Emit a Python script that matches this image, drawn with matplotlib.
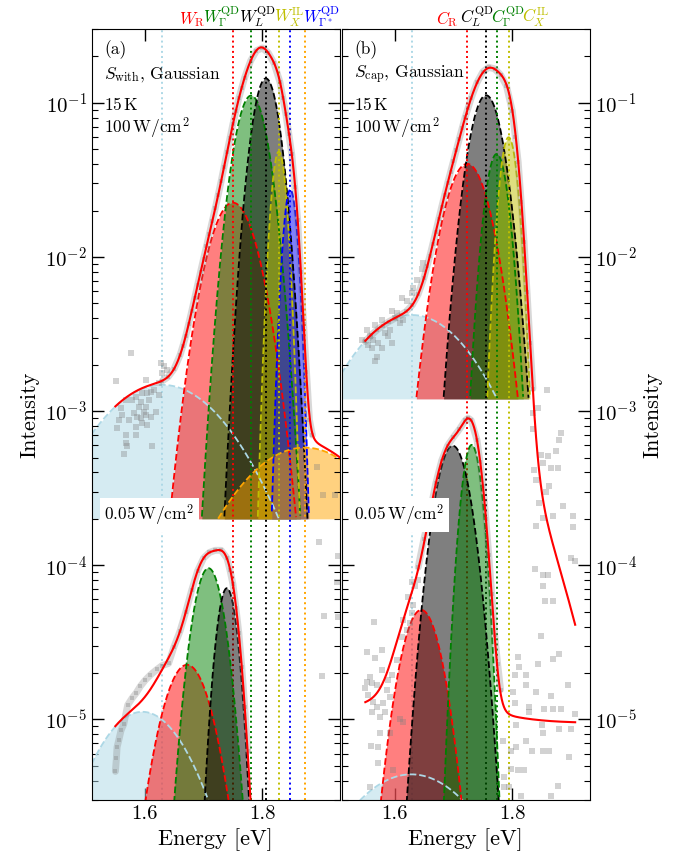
import numpy as np
import matplotlib
matplotlib.use('Agg')
import matplotlib.pyplot as plt
import matplotlib.transforms as mtrans

plt.rcParams['font.family'] = 'serif'
plt.rcParams['font.serif'] = ['cmr10']
plt.rcParams['mathtext.fontset'] = 'cm'
plt.rcParams['axes.unicode_minus'] = False
plt.rcParams['axes.formatter.use_mathtext'] = True

# ---- Gaussian components, 100 W/cm^2 (upper spectra) ----
a_high_colors = ['lightblue', 'red', 'green', 'black', 'y', 'blue', 'orange']
a_high_amp = [1.48e-3, 0.0225, 0.1115, 0.144, 0.0483, 0.0274, 5.8e-4]
a_high_pos = [1.630, 1.750, 1.781, 1.806, 1.828, 1.8475, 1.872]
a_high_wid = [0.099, 0.035, 0.0236, 0.0195, 0.0108, 0.0101, 0.101]
a_high_base = 2e-4

b_high_colors = ['lightblue', 'red', 'black', 'green', 'y']
b_high_amp = [4.2e-3, 0.0402, 0.112, 0.0466, 0.0598]
b_high_pos = [1.630, 1.7232, 1.7554, 1.7734, 1.7937]
b_high_wid = [0.091, 0.0326, 0.024, 0.0167, 0.013]
b_high_base = 1.2e-3

# ---- Gaussian components, 0.05 W/cm^2 (lower spectra) ----
a_low_colors = ['lightblue', 'red', 'green', 'black']
a_low_amp = [1.12e-5, 2.26e-5, 9.57e-5, 7.1e-5]
a_low_pos = [1.596, 1.672, 1.7085, 1.7397]
a_low_wid = [0.069, 0.0351, 0.0221, 0.015]
a_low_bg = 0.0

b_low_colors = ['lightblue', 'red', 'black', 'green']
b_low_amp = [4.4e-6, 5.13e-5, 5.96e-4, 6.04e-4]
b_low_pos = [1.6283, 1.6452, 1.6988, 1.731]
b_low_wid = [0.099, 0.0287, 0.024, 0.0145]
b_low_bg = 9.5e-6

a_fit_range = (1.55, 1.95)
b_fit_range = (1.55, 1.907)

# ---- measured spectra (main trace) ----
a_high_trace_E = [1.63, 1.64, 1.65, 1.66, 1.665, 1.67, 1.675, 1.68, 1.685, 1.69, 1.695,
                  1.70, 1.705, 1.71, 1.715, 1.72, 1.725, 1.73, 1.735, 1.74, 1.745, 1.75,
                  1.755, 1.76, 1.765, 1.77, 1.78, 1.79, 1.80, 1.81, 1.82, 1.83, 1.835,
                  1.84, 1.845, 1.85, 1.855, 1.86, 1.865, 1.87, 1.875, 1.88, 1.885]
a_high_trace_I = [1.57e-3, 1.67e-3, 1.88e-3, 2.3e-3, 2.65e-3, 3.09e-3, 3.7e-3, 4.45e-3,
                  5.4e-3, 6.57e-3, 8.0e-3, 9.7e-3, 1.17e-2, 1.41e-2, 1.71e-2, 2.07e-2,
                  2.53e-2, 3.1e-2, 3.85e-2, 4.77e-2, 5.9e-2, 7.28e-2, 8.8e-2, 0.107, 0.125,
                  0.146, 0.187, 0.218, 0.227, 0.211, 0.180, 0.136, 0.107, 8.44e-2, 6.25e-2,
                  4.63e-2, 2.85e-2, 1.75e-2, 8.0e-3, 3.7e-3, 1.8e-3, 8.8e-4, 7.0e-4]

a_low_trace_E = [1.5503, 1.552, 1.5531, 1.5559, 1.5599, 1.5644, 1.5712, 1.5785, 1.5859,
                 1.5927, 1.6011, 1.6096, 1.6209, 1.6294, 1.6407, 1.65, 1.66, 1.67, 1.68,
                 1.69, 1.70, 1.71, 1.72, 1.73, 1.74, 1.745, 1.75, 1.755, 1.76, 1.765,
                 1.77, 1.775]
a_low_trace_I = [4.6e-6, 5.6e-6, 6.6e-6, 7.3e-6, 8.5e-6, 9.3e-6, 1.24e-5, 1.37e-5, 1.49e-5,
                 1.64e-5, 1.8e-5, 1.94e-5, 2.11e-5, 2.23e-5, 2.31e-5, 2.97e-5, 3.73e-5,
                 5.0e-5, 6.9e-5, 9.2e-5, 1.11e-4, 1.21e-4, 1.25e-4, 1.25e-4, 1.11e-4,
                 9.3e-5, 7.55e-5, 5.3e-5, 3.64e-5, 2.2e-5, 1.21e-5, 6.2e-6]

b_high_trace_E = [1.55, 1.56, 1.57, 1.58, 1.59, 1.60, 1.61, 1.62, 1.63, 1.64, 1.65, 1.655,
                  1.66, 1.665, 1.67, 1.675, 1.68, 1.685, 1.69, 1.695, 1.70, 1.705, 1.71,
                  1.715, 1.72, 1.725, 1.73, 1.74, 1.75, 1.76, 1.77, 1.78, 1.79, 1.80,
                  1.805, 1.81, 1.815, 1.82, 1.825, 1.83, 1.835]
b_high_trace_I = [2.83e-3, 3.1e-3, 3.36e-3, 3.59e-3, 3.8e-3, 3.99e-3, 4.19e-3, 4.44e-3,
                  4.88e-3, 5.73e-3, 7.35e-3, 8.7e-3, 1.02e-2, 1.22e-2, 1.46e-2, 1.76e-2,
                  2.11e-2, 2.52e-2, 3.0e-2, 3.55e-2, 4.19e-2, 4.96e-2, 5.86e-2, 6.9e-2,
                  8.1e-2, 9.3e-2, 0.107, 0.1355, 0.159, 0.170, 0.166, 0.152, 0.129, 0.0885,
                  0.0604, 0.0412, 0.0227, 0.0125, 5.9e-3, 2.78e-3, 1.4e-3]

b_low_trace_E = [1.64, 1.65, 1.66, 1.67, 1.68, 1.69, 1.70, 1.71, 1.72, 1.725, 1.73, 1.74,
                 1.745, 1.75, 1.755, 1.76, 1.765, 1.77, 1.775, 1.78]
b_low_trace_I = [9.7e-5, 1.49e-4, 2.2e-4, 3.4e-4, 4.78e-4, 5.97e-4, 6.78e-4, 7.62e-4,
                 8.71e-4, 9.0e-4, 8.72e-4, 6.47e-4, 4.7e-4, 3.29e-4, 2.0e-4, 1.16e-4,
                 6.5e-5, 3.53e-5, 2.3e-5, 1.56e-5]

# ---- scattered (noisy) measured points ----
a_noise_E = [1.5763, 1.5508, 1.6017, 1.627, 1.633, 1.6385, 1.630, 1.616, 1.6102, 1.6046,
             1.5961, 1.5847, 1.5792, 1.5678, 1.5932, 1.6075, 1.6244, 1.5593, 1.5905,
             1.6017, 1.582, 1.599, 1.6186, 1.5622, 1.5876, 1.6017, 1.5932, 1.6102, 1.5736,
             1.5566, 1.6046, 1.5537, 1.5847, 1.5961, 1.5678, 1.5847, 1.613, 1.5678,
             1.5707, 1.565, 1.6244,
             1.8922, 1.9034, 1.9232, 1.8961, 1.9278, 1.9261, 1.9051, 1.9278, 1.9007]
a_noise_I = [2.38e-3, 1.56e-3, 1.58e-3, 2.06e-3, 1.95e-3, 1.85e-3, 1.77e-3, 1.37e-3,
             1.34e-3, 1.31e-3, 1.31e-3, 1.24e-3, 1.18e-3, 1.18e-3, 1.15e-3, 1.18e-3,
             1.28e-3, 1.05e-3, 1.07e-3, 1.07e-3, 9.7e-4, 9.9e-4, 9.9e-4, 9.5e-4, 9.2e-4,
             9.5e-4, 9.0e-4, 9.2e-4, 8.8e-4, 8.8e-4, 8.1e-4, 7.8e-4, 7.9e-4, 8.35e-4,
             7.0e-4, 7.0e-4, 5.9e-4, 6.2e-4, 5.9e-4, 5.3e-4, 1.53e-3,
             4.37e-4, 2.86e-4, 2.86e-4, 1.41e-4, 1.14e-4, 7.8e-5, 4.69e-5, 4.64e-5, 1.92e-5]

b_noise_E = [1.6119, 1.6203, 1.6288, 1.5949, 1.6005, 1.578, 1.5666, 1.5525, 1.5581, 1.5639,
             1.5724, 1.5836, 1.592, 1.609, 1.6147, 1.6034, 1.5893, 1.5949, 1.5695, 1.5666,
             1.5554, 1.561, 1.578, 1.5441, 1.6317, 1.6373, 1.6458, 1.6486,
             1.8582, 1.8429, 1.8344, 1.8344, 1.8825, 1.8797, 1.8741, 1.8599, 1.8486,
             1.8514, 1.8373, 1.8656, 1.8768, 1.8401, 1.8627, 1.8571, 1.8446, 1.8864,
             1.8683, 1.8514, 1.8401, 1.9023, 1.9023, 1.8995, 1.9068, 1.839, 1.8514,
             1.8599, 1.8525, 1.8559, 1.8695, 1.8486, 1.8785, 1.8695, 1.809, 1.8429,
             1.8232, 1.8119, 1.8051, 1.8232, 1.8017, 1.8401, 1.8656, 1.8938, 1.8288,
             1.8051, 1.8277, 1.8542, 1.8683, 1.8825, 1.9068, 1.8063, 1.8503, 1.8797,
             1.8995, 1.8514, 1.7836, 1.8063, 1.8232, 1.8333, 1.8514, 1.8627, 1.8955,
             1.7978, 1.7978, 1.809, 1.8203, 1.8768, 1.7949, 1.8147, 1.8656, 1.7864, 1.7864,
             1.5656, 1.5525, 1.5666, 1.578, 1.5581, 1.561, 1.5525, 1.5695, 1.5497, 1.5554,
             1.5639, 1.5695, 1.561, 1.5808, 1.5751, 1.5864, 1.5949, 1.6034, 1.6119,
             1.6203, 1.626, 1.6288, 1.6317, 1.609, 1.6147, 1.5751, 1.592, 1.5593, 1.5724,
             1.5712, 1.5978, 1.5581, 1.5836, 1.592, 1.578, 1.5893, 1.6147, 1.6232, 1.6344,
             1.6402, 1.6288]
b_noise_I = [5.4e-3, 5.15e-3, 5.8e-3, 4.43e-3, 4.02e-3, 3.92e-3, 3.63e-3, 3.37e-3, 3.05e-3,
             2.9e-3, 2.77e-3, 3.21e-3, 3.37e-3, 3.73e-3, 3.92e-3, 4.33e-3, 3.05e-3, 2.77e-3,
             2.26e-3, 2.1e-3, 2.7e-3, 2.57e-3, 2.57e-3, 2.9e-3, 6.3e-3, 7.1e-3, 8.3e-3,
             9.1e-3,
             1.37e-3, 1.04e-3, 9.7e-4, 7.6e-4, 7.2e-4, 6.5e-4, 5.5e-4, 5.1e-4, 5.2e-4,
             4.6e-4, 4.16e-4, 4.26e-4, 4.26e-4, 3.58e-4, 3.27e-4, 3.0e-4, 2.55e-4, 2.43e-4,
             2.09e-4, 2.02e-4, 1.8e-4, 2.09e-4, 1.78e-4, 1.11e-4, 1.07e-4, 9.4e-5, 8.65e-5,
             8.65e-5, 7.3e-5, 5.9e-5, 5.9e-5, 3.47e-5, 2.65e-5, 2.45e-5, 2.53e-5, 2.28e-5,
             1.94e-5, 2.18e-5, 1.94e-5, 1.67e-5, 1.51e-5, 1.51e-5, 1.42e-5, 1.67e-5,
             1.21e-5, 1.28e-5, 1.12e-5, 1.17e-5, 1.17e-5, 1.17e-5, 1.08e-5, 9.2e-6, 9.2e-6,
             8.7e-6, 8.7e-6, 8.2e-6, 7.2e-6, 6.6e-6, 7.2e-6, 6.2e-6, 6.2e-6, 6.2e-6,
             5.7e-6, 6.2e-6, 4.8e-6, 4.7e-6, 4.7e-6, 3.7e-6, 3.65e-6, 3.2e-6, 3.2e-6,
             4.2e-6, 3.65e-6,
             4.27e-5, 2.75e-5, 2.5e-5, 2.8e-5, 1.89e-5, 1.71e-5, 1.75e-5, 1.67e-5, 1.59e-5,
             1.44e-5, 1.3e-5, 1.21e-5, 1.12e-5, 1.27e-5, 1.04e-5, 1.55e-5, 1.94e-5,
             2.43e-5, 3.4e-5, 3.8e-5, 4.2e-5, 4.9e-5, 5.5e-5, 1.01e-5, 9.6e-6, 8.2e-6,
             8.1e-6, 6.7e-6, 6.6e-6, 5.2e-6, 4.7e-6, 3.65e-6, 1.12e-5, 1.4e-5, 2.09e-5,
             1.8e-5, 4.4e-5, 6.25e-5, 7.3e-5, 8.0e-5, 7.8e-5]

# label texts above the panels and their x positions
a_top_labels = [r'$W_\mathrm{R}$', r'$W_\Gamma^\mathrm{QD}$', r'$W_L^\mathrm{QD}$',
                r'$W_X^\mathrm{IL}$', r'$W_{\Gamma^*}^\mathrm{QD}$']
a_top_colors = ['red', 'green', 'black', 'y', 'blue']
a_top_x = [1.680, 1.731, 1.792, 1.8465, 1.901]
b_top_labels = [r'$C_\mathrm{R}$', r'$C_L^\mathrm{QD}$', r'$C_\Gamma^\mathrm{QD}$',
                r'$C_X^\mathrm{IL}$']
b_top_colors = ['red', 'black', 'green', 'y']
b_top_x = [1.689, 1.739, 1.792, 1.840]


def gauss(e, amp, pos, wid):
    return amp * np.exp(-(e - pos) ** 2 / (2 * wid ** 2))


egrid = np.linspace(1.45, 2.0, 1500)


def draw_panel(ax, hi, base, lo, bg, fit_range, trace_hi, trace_lo, noise):
    colors, amps, poss, wids = hi
    # upper spectrum components, filled down to the baseline
    for c, a, p, w in zip(colors, amps, poss, wids):
        g = gauss(egrid, a, p, w)
        ax.fill_between(egrid, base, g, where=g > base, interpolate=True,
                        color=c, alpha=0.5, lw=0, zorder=1)
        ax.plot(egrid, np.where(g >= base, g, np.nan), '--', color=c, lw=1.3, zorder=1.2)
    # dotted lines at component positions
    for c, p in zip(colors, poss):
        ax.axvline(p, color=c, ls=':', lw=1.4, zorder=1.4)
    # lower spectrum components
    lcolors, lamps, lposs, lwids = lo
    for c, a, p, w in zip(lcolors, lamps, lposs, lwids):
        g = gauss(egrid, a, p, w)
        ax.fill_between(egrid, 1e-9, g, color=c, alpha=0.5, lw=0, zorder=1.6)
        ax.plot(egrid, g, '--', color=c, lw=1.3, zorder=1.8)

    # measured points
    for te, ti in (trace_hi, trace_lo):
        ax.plot(te, ti, '-', color='gray', lw=5, alpha=0.3, zorder=2,
                solid_capstyle='round')
        ax.plot(te, ti, 's', color='gray', ms=3.5, mew=0, alpha=0.35, zorder=2)
    ax.plot(noise[0], noise[1], 's', color='gray', ms=4, mew=0, alpha=0.35, zorder=2)

    # total fits
    ef = egrid[(egrid >= fit_range[0]) & (egrid <= fit_range[1])]
    fit_hi = sum(gauss(ef, a, p, w) for a, p, w in zip(amps, poss, wids))
    fit_lo = bg + sum(gauss(ef, a, p, w) for a, p, w in zip(lamps, lposs, lwids))
    ax.plot(ef, fit_hi, '-', color='red', lw=1.5, zorder=3)
    ax.plot(ef, fit_lo, '-', color='red', lw=1.5, zorder=3)

    ax.set_yscale('log')
    ax.set_xlim(1.51, 1.932)
    ax.set_ylim(3e-6, 0.3)
    ax.set_xticks([1.6, 1.8])
    ax.set_xticklabels(['1.6', '1.8'])
    ax.tick_params(which='both', direction='in', top=True, bottom=True,
                   left=True, right=True, labelsize=15)
    ax.tick_params(which='major', length=8.5, width=1)
    ax.tick_params(which='minor', length=4.5, width=0.8)
    ax.set_xlabel('Energy [eV]', fontsize=16)
    ax.set_ylabel('Intensity', fontsize=16)


fig = plt.figure(figsize=(6.89, 8.59), dpi=100)
ax_a = fig.add_axes([0.1331, 0.0687, 0.3604, 0.8972])
ax_b = fig.add_axes([0.4959, 0.0687, 0.3604, 0.8972])

draw_panel(ax_a, (a_high_colors, a_high_amp, a_high_pos, a_high_wid), a_high_base,
           (a_low_colors, a_low_amp, a_low_pos, a_low_wid), a_low_bg, a_fit_range,
           (a_high_trace_E, a_high_trace_I), (a_low_trace_E, a_low_trace_I),
           (a_noise_E, a_noise_I))
draw_panel(ax_b, (b_high_colors, b_high_amp, b_high_pos, b_high_wid), b_high_base,
           (b_low_colors, b_low_amp, b_low_pos, b_low_wid), b_low_bg, b_fit_range,
           (b_high_trace_E, b_high_trace_I), (b_low_trace_E, b_low_trace_I),
           (b_noise_E, b_noise_I))

ax_b.tick_params(axis='y', which='both', labelleft=False, labelright=True)
ax_b.yaxis.set_label_position('right')

# panel texts
for ax, tag, name in ((ax_a, '(a)', r'$S_\mathrm{with}$, Gaussian'),
                      (ax_b, '(b)', r'$S_\mathrm{cap}$, Gaussian')):
    ax.text(0.05, 0.973, tag, transform=ax.transAxes, fontsize=12.5, va='center', zorder=5)
    ax.text(0.05, 0.941, name, transform=ax.transAxes, fontsize=12.5, va='center', zorder=5)
    ax.text(0.05, 0.902, r'$15\,\mathrm{K}$', transform=ax.transAxes, fontsize=12.5,
            va='center', zorder=5)
    ax.text(0.05, 0.872, r'$100\,\mathrm{W/cm^2}$', transform=ax.transAxes, fontsize=12.5,
            va='center', zorder=5)
    ax.text(0.05, 0.370, r'$0.05\,\mathrm{W/cm^2}$', transform=ax.transAxes, fontsize=12.5,
            va='center', zorder=5,
            bbox=dict(facecolor='white', edgecolor='none', pad=3))

for ax, labels, cols, xs in ((ax_a, a_top_labels, a_top_colors, a_top_x),
                             (ax_b, b_top_labels, b_top_colors, b_top_x)):
    trans = mtrans.blended_transform_factory(ax.transData, ax.transAxes)
    for lab, c, x in zip(labels, cols, xs):
        ax.text(x, 1.0, lab, color=c, transform=trans, ha='center', va='bottom',
                fontsize=12)

fig.savefig('out.png', dpi=100)
